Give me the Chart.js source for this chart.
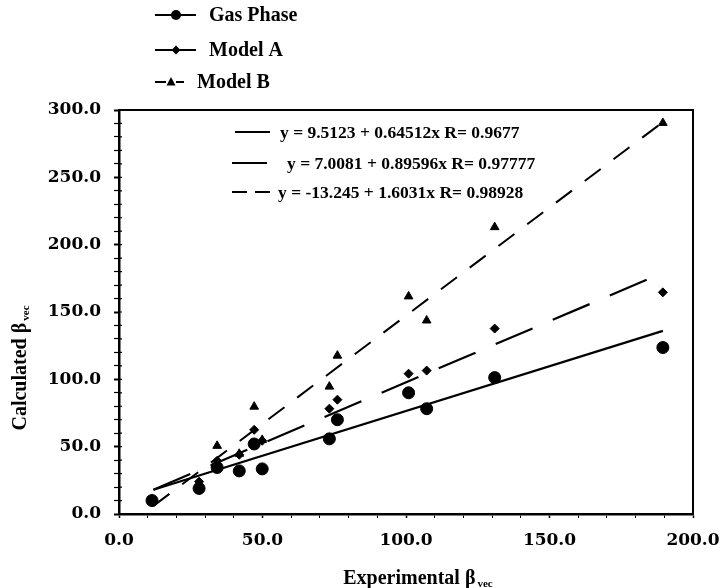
<!DOCTYPE html>
<html><head><meta charset="utf-8">
<script src="https://cdn.jsdelivr.net/npm/chart.js@4.4.0/dist/chart.umd.min.js"></script>
<style>html,body{margin:0;padding:0;background:#fff}#wrap{width:720px;height:588px;position:relative}</style>
</head><body><div id="wrap"><canvas id="c" width="720" height="588"></canvas></div>
<script>
// ---- data ----
const seriesNames = ['Gas Phase', 'Model A', 'Model B'];
const expX   = [11.5, 27.9, 34.2, 41.9, 47.1, 49.9, 73.3, 76.1, 100.9, 107.2, 130.9, 189.5];
const gasY   = [10.0, 19.0, 34.5, 32.0, 52.0, 33.5, 55.8, 70.0, 90.0, 78.2, 101.3, 123.6];
const modelA = [11.0, 24.0, 39.5, 44.0, 62.5, 54.4, 78.2, 84.9, 104.2, 106.5, 137.7, 164.6];
const modelB = [9.0, 21.0, 50.6, 44.7, 79.7, 55.0, 94.6, 117.6, 161.6, 143.7, 213.0, 290.4];
// fit-line end points
const fitStartX = [12, 12, 12];
const fitStartY = [18, 18, 6];
const fitEndX   = [189.5, 189.5, 189.5];
const fitEndY   = [136, 179, 291];
const fitEquations = [
  'y = 9.5123 + 0.64512x R= 0.9677',
  'y = 7.0081 + 0.89596x R= 0.97777',
  'y = -13.245 + 1.6031x R= 0.98928'
];
const xTickLabels = ['0.0', '50.0', '100.0', '150.0', '200.0'];
const yTickLabels = ['0.0', '50.0', '100.0', '150.0', '200.0', '250.0', '300.0'];
const xTitle = 'Experimental β';
const yTitle = 'Calculated β';
const titleSub = 'vec';

const pts = (xs, ys) => xs.map((x, i) => ({x: x, y: ys[i]}));
const fitLine = i => [{x: fitStartX[i], y: fitStartY[i]}, {x: fitEndX[i], y: fitEndY[i]}];
const fitDash = [[], [40, 22], [20, 16]];

const TICK_FONT = {family: 'DejaVu Serif', size: 17, weight: 'bold'};

const decor = {
  id: 'decor',
  afterDraw(chart) {
    const ctx = chart.ctx, a = chart.chartArea;
    const ys = chart.scales.y;
    ctx.save();
    // box around plot
    ctx.strokeStyle = '#000';
    ctx.lineWidth = 2;
    ctx.beginPath();
    ctx.moveTo(a.left, a.top); ctx.lineTo(a.right, a.top); ctx.lineTo(a.right, a.bottom);
    ctx.stroke();
    // inner y ticks (ticks cross the axis in the reference)
    ctx.lineWidth = 1.2;
    ctx.beginPath();
    ys.ticks.forEach(t => {
      const py = ys.getPixelForValue(t.value);
      ctx.moveTo(a.left, py); ctx.lineTo(a.left + 3, py);
    });
    ctx.stroke();

    // top legend
    const legY = [15, 50, 82];
    ctx.font = 'bold 20px "Liberation Serif"';
    ctx.textBaseline = 'middle';
    ctx.fillStyle = '#000';
    for (let i = 0; i < 3; i++) {
      const y = legY[i];
      ctx.lineWidth = 2;
      ctx.beginPath();
      if (i < 2) { ctx.moveTo(155, y); ctx.lineTo(196, y); }
      else { ctx.moveTo(155, y); ctx.lineTo(166, y); ctx.moveTo(176, y); ctx.lineTo(184, y); }
      ctx.stroke();
      ctx.beginPath();
      if (i === 0) { ctx.arc(176, y, 5, 0, Math.PI * 2); }
      else if (i === 1) { ctx.moveTo(176, y - 4.5); ctx.lineTo(180.5, y); ctx.lineTo(176, y + 4.5); ctx.lineTo(171.5, y); ctx.closePath(); }
      else { ctx.moveTo(171, y - 5); ctx.lineTo(175.5, y + 3.5); ctx.lineTo(166.5, y + 3.5); ctx.closePath(); }
      ctx.fill();
      ctx.textAlign = 'left';
      ctx.fillText(seriesNames[i], i === 2 ? 197 : 209, y + 1);
    }

    // equation legend inside plot
    const eqY = [132, 163, 192];
    const eqX = [280, 287, 278];
    ctx.font = 'bold 17.5px "Liberation Serif"';
    ctx.lineWidth = 2;
    for (let i = 0; i < 3; i++) {
      const y = eqY[i];
      ctx.beginPath();
      if (i === 0) { ctx.moveTo(235, y); ctx.lineTo(270, y); }
      else if (i === 1) { ctx.moveTo(232, y); ctx.lineTo(267, y); }
      else { ctx.moveTo(232, y); ctx.lineTo(247, y); ctx.moveTo(255, y); ctx.lineTo(270, y); }
      ctx.stroke();
      ctx.fillText(fitEquations[i], eqX[i], y + 1);
    }

    // axis titles with subscript
    const drawTitle = (text, cx, cy, rot) => {
      ctx.save();
      ctx.translate(cx, cy);
      ctx.rotate(rot);
      ctx.font = 'bold 20px "Liberation Serif"';
      const w1 = ctx.measureText(text).width;
      ctx.font = 'bold 11px "Liberation Serif"';
      const w2 = ctx.measureText(titleSub).width;
      const total = w1 + 2 + w2;
      ctx.textAlign = 'left';
      ctx.textBaseline = 'alphabetic';
      ctx.font = 'bold 20px "Liberation Serif"';
      ctx.fillText(text, -total / 2, 6);
      ctx.font = 'bold 11px "Liberation Serif"';
      ctx.fillText(titleSub, -total / 2 + w1 + 2, 9);
      ctx.restore();
    };
    drawTitle(xTitle, 418, 578, 0);
    drawTitle(yTitle, 20, 368, -Math.PI / 2);
    ctx.restore();
  }
};

new Chart(document.getElementById('c'), {
  type: 'scatter',
  data: {
    datasets: [
      {label: seriesNames[0], data: pts(expX, gasY), pointStyle: 'circle', pointRadius: 6,
       backgroundColor: '#000', borderColor: '#000', showLine: false},
      {label: seriesNames[1], data: pts(expX, modelA), pointStyle: 'rectRot', pointRadius: 4.5,
       backgroundColor: '#000', borderColor: '#000', showLine: false},
      {label: seriesNames[2], data: pts(expX, modelB), pointStyle: 'triangle', pointRadius: 5,
       backgroundColor: '#000', borderColor: '#000', showLine: false},
      {label: 'fit0', data: fitLine(0), showLine: true, pointRadius: 0, borderColor: '#000', borderWidth: 2.2, borderDash: fitDash[0]},
      {label: 'fit1', data: fitLine(1), showLine: true, pointRadius: 0, borderColor: '#000', borderWidth: 2.2, borderDash: fitDash[1]},
      {label: 'fit2', data: fitLine(2), showLine: true, pointRadius: 0, borderColor: '#000', borderWidth: 2, borderDash: fitDash[2]}
    ]
  },
  options: {
    responsive: false,
    animation: false,
    devicePixelRatio: 1,
    layout: {padding: {top: 110, right: 27, left: 0, bottom: 0}},
    plugins: {legend: {display: false}, tooltip: {enabled: false}},
    scales: {
      x: {
        type: 'linear', min: 0, max: 200,
        afterFit(s) { s.height = 74; s.paddingLeft = 0; s.paddingRight = 0; },
        border: {display: true, color: '#000', width: 2.5},
        grid: {drawOnChartArea: false, tickLength: 4, color: '#000', tickColor: '#000',
               tickWidth: c => (c.tick && c.tick.value % 50 === 0 ? 1.5 : 1)},
        ticks: {stepSize: 10, autoSkip: false, maxRotation: 0, padding: 12, color: '#000', font: TICK_FONT,
                callback: v => (v % 50 === 0 ? xTickLabels[v / 50] : '')}
      },
      y: {
        type: 'linear', min: 0, max: 300,
        afterFit(s) { s.width = 119; s.paddingTop = 0; s.paddingBottom = 0; },
        border: {display: true, color: '#000', width: 2.5},
        grid: {drawOnChartArea: false, tickLength: 5, color: '#000', tickColor: '#000',
               tickWidth: c => (c.tick && c.tick.value % 50 === 0 ? 2 : 1.2)},
        ticks: {stepSize: 10, autoSkip: false, padding: 13, color: '#000', font: TICK_FONT,
                callback: v => (v % 50 === 0 ? yTickLabels[v / 50] : '')}
      }
    }
  },
  plugins: [decor]
});
</script>
</body></html>
